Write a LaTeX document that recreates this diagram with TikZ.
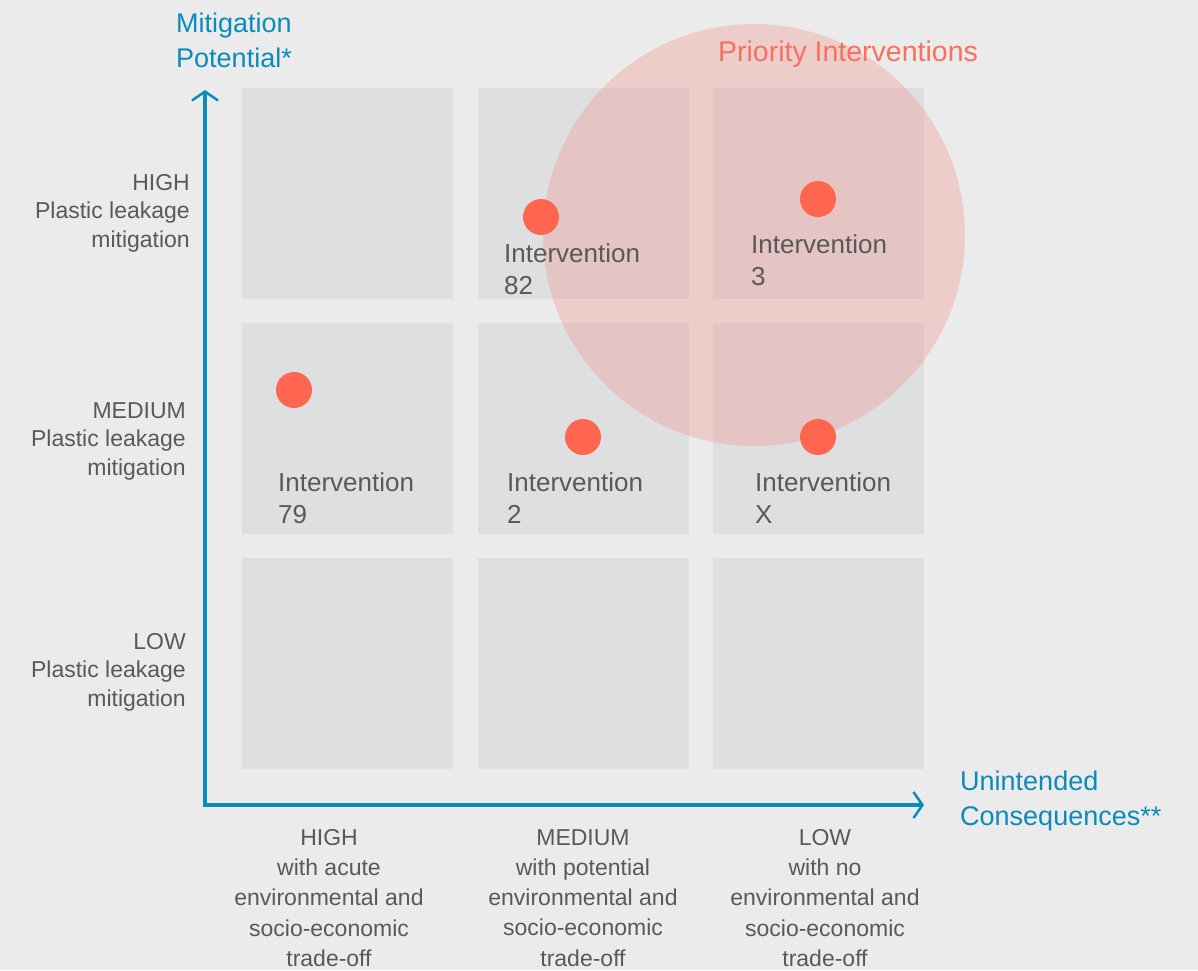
\documentclass[tikz,border=0pt]{standalone}
\usepackage{fontspec}
\setmainfont{Liberation Sans}
\usetikzlibrary{arrows.meta}
\definecolor{bg}{HTML}{EBEBEB}
\definecolor{cell}{HTML}{DEDFE1}
\definecolor{axis}{HTML}{0A8BB9}
\definecolor{dot}{HTML}{FF6650}
\definecolor{txt}{HTML}{595959}
\definecolor{halo}{RGB}{240,150,140}
\definecolor{prio}{HTML}{F8705E}
\tikzset{
  x=1pt, y=-1pt,
  cellbox/.style={fill=cell, draw=none},
  axisline/.style={draw=axis, line width=3.5pt, -{Straight Barb[length=9pt,width=26pt,line width=2.5pt]}},
  dotmark/.style={circle, fill=dot, minimum size=36pt, inner sep=0pt},
  ivlabel/.style={anchor=north west, inner sep=0pt, align=left, text=txt, font=\fontsize{26}{32}\selectfont},
  ylabel/.style={anchor=north east, inner sep=0pt, align=right, text=txt, font=\fontsize{23}{28.5}\selectfont},
  xlabel/.style={anchor=north, inner sep=0pt, align=center, text=txt, font=\fontsize{23}{30.3}\selectfont},
  axlabel/.style={anchor=north west, inner sep=0pt, align=left, text=axis, font=\fontsize{27}{34.5}\selectfont},
}
\begin{document}
\begin{tikzpicture}
\fill[bg] (0,0) rectangle (1198,970);
\useasboundingbox (0,0) rectangle (1198,970);
% cells
\foreach \cx in {242,478,713}{
  \foreach \cy in {88,323,558}{
    \fill[cell] (\cx,\cy) rectangle ++(211,211);
  }
}
% priority halo
\fill[halo, opacity=0.35] (754,235) circle[radius=211];
\node[anchor=north, inner sep=0pt, text=prio, font=\fontsize{28.5}{34}\selectfont] (prio) at (848,41) {Priority Interventions};
% axes
\coordinate (origin) at (205,805);
\coordinate (ytop) at (205,90);
\coordinate (xend) at (924,805);
\draw[axisline] ([yshift=-1.75pt]origin) -- (ytop);
\draw[axisline] ([xshift=-1.75pt]origin) -- (xend);
\node[axlabel] (ylab) at (176,13) {Mitigation\\Potential*};
\node[axlabel] (xlab) at (960,771) {Unintended\\Consequences**};
% y labels
\node[ylabel] (yhigh) at (190,174) {HIGH\\Plastic leakage\\mitigation};
\node[ylabel] (ymed) at (186,402) {MEDIUM\\Plastic leakage\\mitigation};
\node[ylabel] (ylow) at (186,633) {LOW\\Plastic leakage\\mitigation};
% x labels
\node[xlabel] (xhigh) at (329,829) {HIGH\\with acute\\environmental and\\socio-economic\\trade-off};
\node[xlabel] (xmed) at (583,829) {MEDIUM\\with potential\\environmental and\\socio-economic\\trade-off};
\node[xlabel] (xlow) at (825,829) {LOW\\with no\\environmental and\\socio-economic\\trade-off};
% dots
\node[dotmark] (d82) at (541,217) {};
\node[dotmark] (d3) at (818,199) {};
\node[dotmark] (d79) at (294,390) {};
\node[dotmark] (d2) at (583,437) {};
\node[dotmark] (dX) at (818,437) {};
% intervention labels
\node[ivlabel] (l82) at (504,243) {Intervention\\82};
\node[ivlabel] (l3) at (751,234) {Intervention\\3};
\node[ivlabel] (l79) at (278,472) {Intervention\\79};
\node[ivlabel] (l2) at (507,472) {Intervention\\2};
\node[ivlabel] (lX) at (755,472) {Intervention\\X};
\end{tikzpicture}
\end{document}
